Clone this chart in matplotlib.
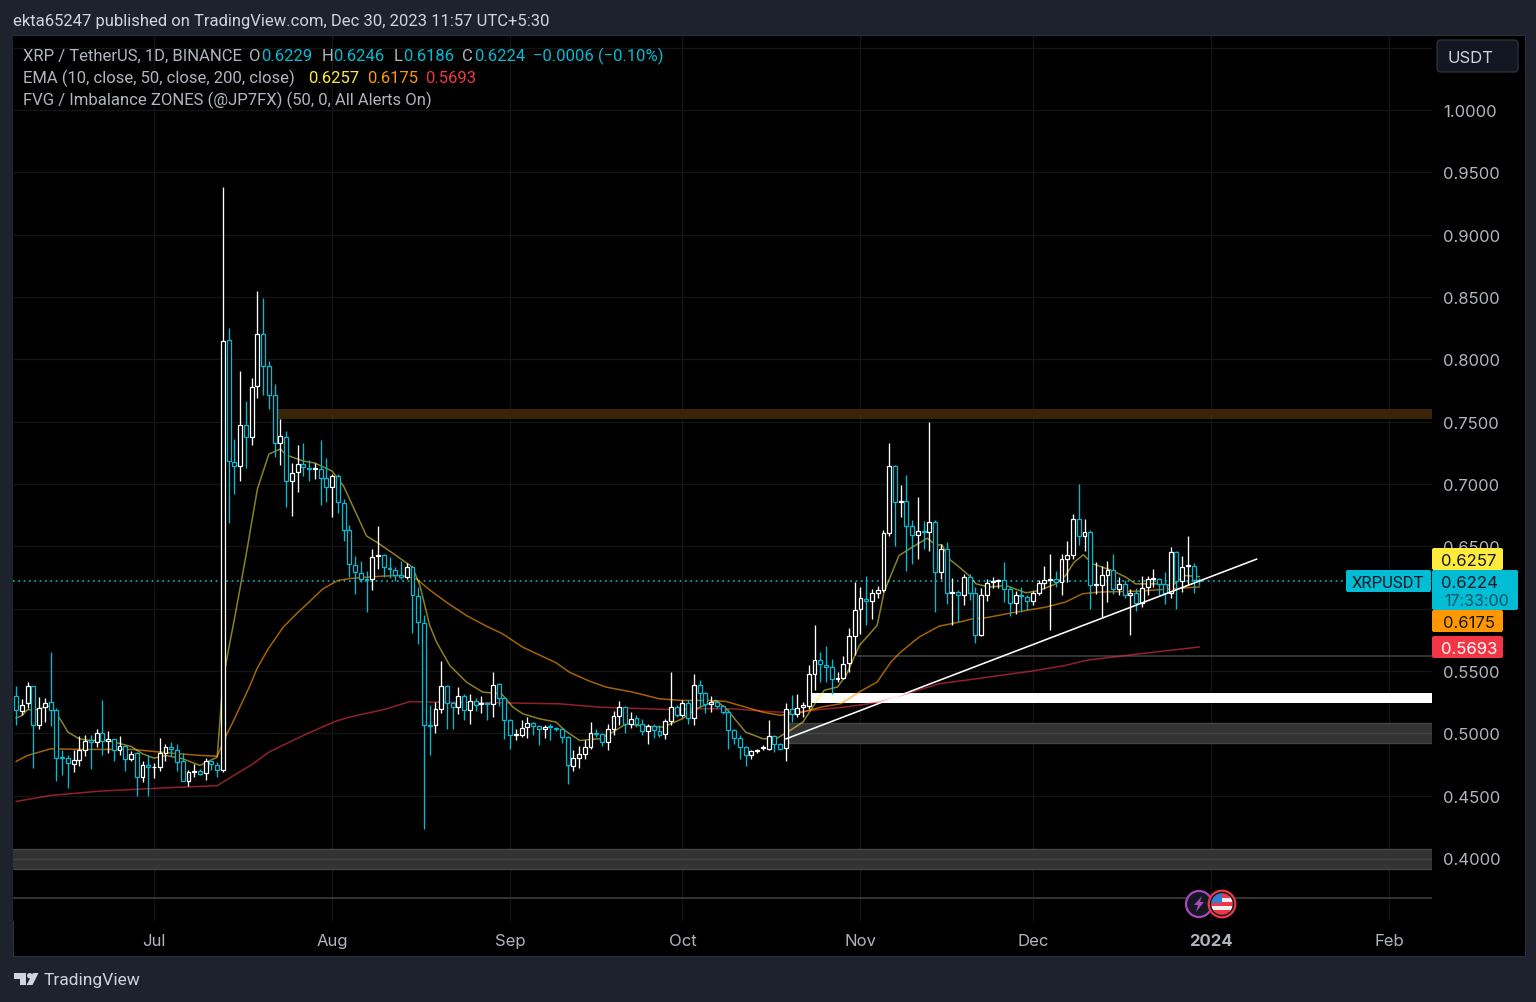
import matplotlib
matplotlib.use("Agg")
import matplotlib.pyplot as plt
from matplotlib.patches import Rectangle, FancyBboxPatch, Circle, Polygon

plt.rcParams["font.family"] = ["Inter", "DejaVu Sans"]

# ----- candles, one value per day, day 0 = 1 Jul 2023 -----
days = list(range(-24, 183))
opens = [
    .5298, .5183, .5242, .5378, .5068, .5210, .5250, .5191, .4810, .4801,
    .4758, .4790, .4868, .4943, .4929, .4999, .4937, .4956, .4865, .4897,
    .4793, .4839, .4646, .4743, .4732, .4729, .4841, .4889, .4868, .4777,
    .4617, .4689, .4700, .4684, .4777, .4748, .4710, .8152, .7177, .7145,
    .7471, .7375, .7783, .8200, .7944, .7714, .7332, .7380, .7022, .7094,
    .7161, .7131, .7123, .7118, .7046, .6974, .7067, .6848, .6627, .6354,
    .6287, .6239, .6234, .6424, .6434, .6327, .6314, .6274, .6255, .6338,
    .6101, .5887, .5063, .5063, .5196, .5383, .5244, .5212, .5298, .5186,
    .5258, .5237, .5244, .5236, .5397, .5282, .5108, .4988, .4988, .5047,
    .5084, .5055, .5033, .5055, .5044, .5033, .4967, .4742, .4801, .4833,
    .4889, .5005, .4997, .4930, .5032, .5138, .5210, .5072, .5122, .5072,
    .5021, .5058, .5021, .4994, .5096, .5210, .5144, .5242, .5122, .5389,
    .5325, .5232, .5253, .5216, .5170, .5024, .4965, .4887, .4829, .4855,
    .4879, .4877, .4975, .4911, .4882, .5193, .5153, .5212, .5219, .5473,
    .5585, .5550, .5532, .5436, .5444, .5564, .5780, .5994, .6079, .6058,
    .6122, .6146, .6605, .7147, .6856, .6864, .6667, .6594, .6624, .6611,
    .6699, .6298, .6480, .6122, .6135, .6111, .6258, .6122, .5785, .6106,
    .6213, .6218, .6226, .6154, .6042, .6109, .6090, .6063, .6122, .6207,
    .6231, .6239, .6213, .6400, .6432, .6720, .6586, .6613, .6186, .6191,
    .6274, .6314, .6154, .6199, .6111, .6122, .6045, .6173, .6237, .6239,
    .6194, .6122, .6458, .6221, .6343, .6346, .6229,
]
highs = [
    .5383, .5276, .5415, .5378, .5290, .5282, .5656, .5202, .4863, .4830,
    .4868, .4977, .4988, .4983, .5036, .5271, .5017, .4956, .4977, .4908,
    .4855, .4849, .4775, .4828, .4764, .4961, .4916, .4932, .4913, .4841,
    .4708, .4753, .4716, .4804, .4777, .4769, .9380, .8251, .7364, .7906,
    .7666, .7850, .8547, .8491, .7986, .7800, .7524, .7428, .7166, .7313,
    .7329, .7190, .7169, .7355, .7206, .7080, .7080, .6880, .6672, .6426,
    .6386, .6306, .6480, .6667, .6440, .6413, .6333, .6381, .6368, .6346,
    .6173, .5946, .5228, .5250, .5583, .5391, .5250, .5370, .5316, .5316,
    .5282, .5303, .5250, .5495, .5405, .5290, .5116, .5036, .5108, .5130,
    .5090, .5063, .5068, .5076, .5049, .5041, .4975, .4868, .4897, .4943,
    .5090, .5037, .5002, .5077, .5176, .5256, .5216, .5170, .5144, .5117,
    .5077, .5072, .5064, .5117, .5496, .5224, .5264, .5264, .5477, .5424,
    .5331, .5299, .5264, .5229, .5197, .5032, .4983, .4895, .4863, .4877,
    .4903, .5109, .4983, .4922, .5245, .5305, .5318, .5252, .5545, .5866,
    .5652, .5697, .5599, .5492, .5617, .5844, .6213, .6173, .6266, .6154,
    .6178, .6627, .7329, .7153, .6992, .7072, .6712, .6899, .6707, .7500,
    .6715, .6520, .6533, .6245, .6146, .6279, .6279, .6173, .6167, .6239,
    .6253, .6239, .6373, .6173, .6138, .6173, .6106, .6138, .6226, .6346,
    .6440, .6306, .6440, .6546, .6760, .7000, .6720, .6632, .6373, .6346,
    .6386, .6440, .6253, .6226, .6159, .6165, .6266, .6261, .6320, .6245,
    .6293, .6493, .6466, .6421, .6586, .6365, .6246,
]
lows = [
    .5068, .5148, .5204, .4724, .5031, .5095, .5055, .4614, .4668, .4564,
    .4694, .4742, .4817, .4716, .4892, .4828, .4841, .4782, .4830, .4700,
    .4782, .4494, .4612, .4499, .4644, .4700, .4782, .4817, .4700, .4617,
    .4574, .4649, .4663, .4622, .4710, .4649, .4694, .6688, .6920, .7022,
    .7126, .7311, .7690, .7711, .7605, .7219, .7153, .6813, .6747, .6934,
    .7067, .7027, .7040, .6832, .6853, .6733, .6765, .6546, .6253, .6114,
    .6213, .5972, .6146, .6319, .6253, .6245, .6221, .6234, .6239, .5804,
    .5719, .4230, .4830, .5004, .5164, .5031, .5036, .5156, .5111, .5079,
    .5178, .5164, .5106, .5135, .5223, .4951, .4871, .4943, .4969, .4964,
    .4988, .4908, .4964, .4945, .5015, .4924, .4590, .4700, .4724, .4796,
    .4876, .4970, .4898, .4869, .4983, .5064, .5002, .5042, .5050, .4983,
    .4917, .4965, .4970, .4957, .5064, .5130, .5130, .5077, .5064, .5210,
    .5162, .5170, .5202, .5157, .4877, .4917, .4791, .4735, .4791, .4842,
    .4863, .4863, .4850, .4863, .4775, .5091, .5131, .5131, .5198, .5345,
    .5412, .5412, .5318, .5412, .5438, .5492, .5625, .5799, .5866, .5919,
    .6085, .6133, .6586, .6501, .6733, .6306, .6360, .6400, .6480, .6466,
    .5972, .6239, .6039, .5866, .5892, .6026, .6066, .5727, .5780, .6063,
    .6165, .6165, .6053, .5940, .5959, .5972, .5986, .6031, .6106, .6159,
    .5825, .6173, .6106, .6213, .6400, .6512, .6466, .5999, .6119, .5932,
    .6053, .6119, .6106, .6085, .5785, .5978, .6012, .6106, .6173, .6111,
    .6039, .6085, .5999, .6133, .6186, .6127, .6186,
]
closes = [
    .5186, .5231, .5378, .5068, .5204, .5245, .5191, .4804, .4802, .4761,
    .4790, .4868, .4940, .4932, .4999, .4940, .4956, .4865, .4897, .4793,
    .4836, .4646, .4743, .4734, .4734, .4841, .4889, .4873, .4774, .4617,
    .4689, .4700, .4676, .4777, .4756, .4710, .8149, .7183, .7145, .7471,
    .7375, .7775, .8200, .7946, .7717, .7332, .7383, .7022, .7088, .7161,
    .7139, .7123, .7128, .7046, .6974, .7067, .6854, .6632, .6360, .6293,
    .6239, .6231, .6418, .6434, .6333, .6317, .6274, .6255, .6338, .6106,
    .5892, .5063, .5058, .5196, .5383, .5244, .5210, .5298, .5186, .5258,
    .5231, .5242, .5236, .5391, .5284, .5108, .4983, .4993, .5044, .5084,
    .5057, .5031, .5049, .5049, .5033, .4967, .4748, .4801, .4833, .4889,
    .5005, .4997, .4930, .5032, .5138, .5210, .5072, .5117, .5077, .5021,
    .5058, .5023, .4989, .5101, .5210, .5144, .5242, .5125, .5389, .5325,
    .5232, .5250, .5216, .5170, .5026, .4962, .4887, .4829, .4855, .4866,
    .4890, .4975, .4917, .4877, .5192, .5153, .5206, .5225, .5473, .5585,
    .5553, .5532, .5433, .5444, .5559, .5777, .5991, .6085, .6058, .6122,
    .6146, .6605, .7147, .6853, .6864, .6667, .6594, .6621, .6616, .6699,
    .6298, .6480, .6122, .6133, .6111, .6258, .6122, .5785, .6106, .6205,
    .6218, .6226, .6154, .6042, .6106, .6098, .6063, .6122, .6205, .6226,
    .6239, .6213, .6400, .6429, .6720, .6586, .6613, .6186, .6194, .6274,
    .6314, .6154, .6199, .6111, .6122, .6045, .6165, .6239, .6245, .6194,
    .6122, .6458, .6221, .6338, .6352, .6229, .6224,
]

# ----- moving averages -----
ema10_days = [-24, -23, -22, -21, -18, -16, -15, -13, -11, -8, -4, -2, 0, 2, 5, 8, 11, 12, 13, 14, 16, 18, 20, 22,
              23, 26, 28, 31, 33, 37, 39, 43, 45, 46.3, 48, 49.2, 51.5, 54.4, 57.2, 60.5, 62.5, 64.2, 67.1, 70,
              71.5, 74.1, 77.6, 79.9, 82.2, 85.1, 88.6, 92, 94.4, 97.9, 99.9, 103, 106, 108.3, 110.3, 113, 115.8,
              116.7, 119, 120.5, 122.8, 125.9, 127.1, 129.7, 132, 134.6, 136.1, 137.2, 138.4, 140.2, 141.9, 143.1,
              145.4, 148.3, 151.8, 154.1, 157, 158.7, 160.2, 161.8, 163.4, 166.8, 169.2, 170.9, 174.4, 177.3,
              179.4, 182]
ema10 = [.5122, .5143, .5191, .5183, .5223, .5090, .5010, .4956, .4943, .4943, .4895, .4836, .4801, .4823, .4796,
         .4743, .4809, .5420, .5680, .5917, .6422, .6960, .7240, .7281, .7233, .7184, .7168, .7104, .6984, .6583,
         .6527, .6398, .6334, .6185, .5865, .5731, .5544, .5411, .5331, .5317, .5210, .5157, .5117, .5090, .5024,
         .4943, .4957, .5010, .5077, .5058, .5050, .5117, .5197, .5264, .5184, .5010, .4957, .4957, .5010, .5091,
         .5291, .5345, .5372, .5465, .5705, .5866, .6133, .6426, .6493, .6565, .6512, .6512, .6400, .6333, .6266,
         .6199, .6173, .6186, .6127, .6146, .6199, .6266, .6373, .6432, .6360, .6306, .6253, .6199, .6199, .6186,
         .6266, .6257]
ema50_days = [-24, -22, -18, -11.6, -3.6, 2.3, 8, 11, 12.7, 14, 16.7, 17.9, 19.9, 22.5, 24.8, 27.1, 29.4, 32, 34.1,
              37, 39.9, 42.8, 45.7, 48, 50.9, 54.4, 57.9, 60.7, 64.2, 70, 72.3, 75.8, 78.7, 83.3, 88, 92, 96.7,
              99.6, 103, 106, 109, 112.9, 116.3, 119.6, 122.8, 125.9, 128.3, 130, 133.2, 136.7, 140.2, 142.5, 144.8,
              149.4, 155.2, 158.7, 161.6, 164.5, 171.5, 177.3, 182]
ema50 = [.4775, .4823, .4876, .4871, .4871, .4844, .4823, .4817, .4996, .5116, .5383, .5517, .5679, .5852, .5959,
         .6058, .6159, .6226, .6242, .6253, .6261, .6266, .6239, .6150, .6052, .5945, .5859, .5798, .5691, .5566,
         .5491, .5419, .5371, .5331, .5277, .5264, .5264, .5256, .5210, .5170, .5145, .5170, .5212, .5238, .5332,
         .5412, .5572, .5652, .5772, .5860, .5892, .5919, .5927, .5967, .6012, .6053, .6119, .6133, .6141, .6159,
         .6175]
ema200_days = [-24, -18, -9.3, -3.5, 2.3, 11, 14.1, 17, 20, 22.6, 26.6, 31.5, 34, 40, 44.6, 48, 60.2, 70.6, 77.6,
               89.2, 95, 100.7, 106.6, 111.2, 114.7, 120.5, 126.3, 132, 136.7, 141.9, 152.9, 158.7, 162.2, 170.3,
               182]
ema200 = [.4454, .4502, .4537, .4550, .4564, .4580, .4668, .4748, .4849, .4908, .4996, .5095, .5130, .5191, .5255,
          .5251, .5245, .5237, .5210, .5192, .5197, .5197, .5176, .5165, .5185, .5212, .5251, .5332, .5398, .5430,
          .5500, .5545, .5585, .5631, .5693]

# ----- zones and drawings -----
zone_starts = [21.6, 114.3, 110.3, -24.6]
zone_lows = [.7521, .5245, .4922, .3912]
zone_highs = [.7601, .5320, .5083, .4072]
zone_colors = ["#3a2406", "#ffffff", "#333333", "#333333"]
level_prices = [.5623, .3679]
level_starts = [122.4, -24.6]
trend_days = [110, 192]
trend_prices = [.4955, .6398]
last_price = .6222

price_ticks = [.40, .45, .50, .55, .60, .65, .70, .75, .80, .85, .90, .95, 1.00]
month_ticks = [0, 31, 62, 92, 123, 153, 184, 215]
month_labels = ["Jul", "Aug", "Sep", "Oct", "Nov", "Dec", "2024", "Feb"]

BG = "#1e222d"
TXT = "#b2b5be"
CYAN = "#00bcd4"
X_MIN, X_MAX = -24.55, 222.5

fig = plt.figure(figsize=(15.36, 10.03), dpi=100, facecolor=BG)
W, H = 1536, 1003


def ax_px(x0, y0, x1, y1, **kw):
    return fig.add_axes([x0 / W, 1 - y1 / H, (x1 - x0) / W, (y1 - y0) / H], **kw)


# black panel behind the chart and the scales
panel = ax_px(13, 36, 1525, 957, facecolor="black", zorder=0)
panel.set_xticks([])
panel.set_yticks([])
for s in panel.spines.values():
    s.set_color("#2a2e39")

ax = ax_px(13, 37, 1432, 922, facecolor="black", zorder=1)
ax.set_xlim(X_MIN, X_MAX)
ax.set_ylim(.3495, 1.0593)
for s in ax.spines.values():
    s.set_visible(False)
ax.yaxis.tick_right()
ax.set_yticks(price_ticks + [1.05], [f"{p:.4f}" for p in price_ticks] + [""])
ax.set_xticks(month_ticks, month_labels)
ax.tick_params(axis="y", length=0, labelsize=12, labelcolor=TXT, pad=8)
ax.tick_params(axis="x", length=0, labelsize=12, labelcolor=TXT, pad=9)
ax.get_xticklabels()[6].set_fontweight("bold")
ax.grid(True, color="#141414", lw=1)
ax.set_axisbelow(True)

# zones
for x0, lo, hi, col in zip(zone_starts, zone_lows, zone_highs, zone_colors):
    ax.add_patch(Rectangle((x0, lo), X_MAX - x0, hi - lo, fc=col, ec="none", zorder=2))
    if col == "#333333":
        ax.hlines([lo, (lo + hi) / 2, hi], x0, X_MAX, color="#444444", lw=1, zorder=2.1)
ax.hlines(level_prices, level_starts, X_MAX, color="#3d3d3d", lw=1.2, zorder=2)

ax.hlines(last_price, X_MIN, 232, color=CYAN, lw=1.2, ls=(0, (1, 2.2)), zorder=2.5, clip_on=False)

# moving averages
ax.plot(ema200_days, ema200, color="#f23645", lw=1.1, alpha=.6, zorder=3)
ax.plot(ema50_days, ema50, color="#ff9800", lw=1.1, alpha=.65, zorder=3)
ax.plot(ema10_days, ema10, color="#ffeb3b", lw=1.1, alpha=.55, zorder=3)

# candles
colors = ["#ffffff" if c >= o else CYAN for o, c in zip(opens, closes)]
ax.vlines(days, lows, highs, color=colors, lw=.95, zorder=4)
bottoms = [min(o, c) for o, c in zip(opens, closes)]
heights = [abs(o - c) for o, c in zip(opens, closes)]
ax.bar(days, heights, bottom=bottoms, width=.68, facecolor="black", edgecolor=colors, linewidth=.9, zorder=5)

ax.plot(trend_days, trend_prices, color="#ffffff", lw=1.15, zorder=6, solid_capstyle="round")

# overlay in pixel coordinates for the interface parts
ui = ax_px(0, 0, W, H, zorder=3)
ui.set_xlim(0, W)
ui.set_ylim(H, 0)
ui.axis("off")
ui.patch.set_alpha(0)


def label(x, y, s, color=TXT, size=12, family="Roboto", **kw):
    ui.text(x, y + 1, s, color=color, fontsize=size, family=family, va="center", **kw)


def tag(x0, y0, x1, y1, col):
    ui.add_patch(FancyBboxPatch((x0, y0), x1 - x0, y1 - y0, boxstyle="round,pad=0,rounding_size=2", fc=col, ec="none"))


label(13, 20, "ekta65247 published on TradingView.com, Dec 30, 2023 11:57 UTC+5:30", color="#d1d4dc")

label(23, 55, "XRP / TetherUS, 1D, BINANCE")
for x, s, col in [(249, "O", TXT), (261, "0.6229", CYAN), (322, "H", TXT), (333, "0.6246", CYAN), (394, "L", TXT),
                  (403, "0.6186", CYAN), (462, "C", TXT), (474, "0.6224", CYAN),
                  (533, "\u22120.0006 (\u22120.10%)", CYAN)]:
    label(x, 55, s, color=col)
label(23, 77, "EMA (10, close, 50, close, 200, close)")
label(308, 77, "0.6257", color="#ffeb3b")
label(367, 77, "0.6175", color="#ff9800")
label(425, 77, "0.5693", color="#f23645")
label(23, 99, "FVG / Imbalance ZONES (@JP7FX) (50, 0, All Alerts On)")

# USDT button
ui.add_patch(FancyBboxPatch((1437, 41), 81, 32, boxstyle="round,pad=0,rounding_size=4", fc="#131722", ec="#2a2e39"))
label(1470, 57, "USDT", color="#d1d4dc", ha="center", family="Inter")

# price tags
tag(1432, 549, 1503, 571, "#ffeb3b")
label(1469, 560.5, "0.6257", color="#131722", ha="center", family="Inter")
tag(1432, 611, 1503, 633, "#ff9800")
label(1469, 622.5, "0.6175", color="#131722", ha="center", family="Inter")
tag(1432, 637, 1503, 659, "#f23645")
label(1469, 648.5, "0.5693", color="#ffffff", ha="center", family="Inter")
tag(1432, 571, 1518, 611, CYAN)
label(1469, 582, "0.6224", color="#131722", ha="center", family="Inter")
label(1477, 600.5, "17:33:00", color="#0b5563", ha="center", family="Inter", size=11.5)
tag(1346, 571, 1431, 593, CYAN)
label(1388, 582.5, "XRPUSDT", color="#131722", ha="center")

# event icons
ui.add_patch(Circle((1199, 905), 13, fc="#131722", ec="#ab47bc", lw=1.6))
ui.add_patch(Polygon([(1202, 897), (1194, 906), (1198, 906), (1196, 913), (1204, 903), (1200, 903)], fc="#ab47bc"))
flag = Circle((1222, 905), 11, fc="#f0f0f0", ec="none")
ui.add_patch(flag)
for yy, hh, col in [(894, 5, "#f23645"), (903, 4, "#f23645"), (911, 6, "#f23645")]:
    stripe = Rectangle((1210, yy), 24, hh, fc=col, ec="none")
    ui.add_patch(stripe)
    stripe.set_clip_path(flag)
canton = Rectangle((1211, 894), 11, 10, fc="#2f7ed8", ec="none")
ui.add_patch(canton)
canton.set_clip_path(flag)
ui.add_patch(Circle((1222, 905), 13, fc="none", ec="#f23645", lw=2))
ui.add_patch(Circle((1222, 905), 11.5, fc="none", ec="#131722", lw=1))

# TradingView logo
ui.add_patch(Polygon([(13.5, 974), (25.7, 974), (25.7, 986), (19.5, 986), (19.5, 979.5), (13.5, 979.5)], fc="#d1d4dc"))
ui.add_patch(Circle((29.7, 976.7), 2.7, fc="#d1d4dc"))
ui.add_patch(Polygon([(33, 974), (38.5, 974), (32.5, 986), (26.5, 986)], fc="#d1d4dc"))
label(44, 980, "TradingView", color="#d1d4dc", size=12.5)

fig.savefig("out.png", dpi=100, facecolor=BG)
